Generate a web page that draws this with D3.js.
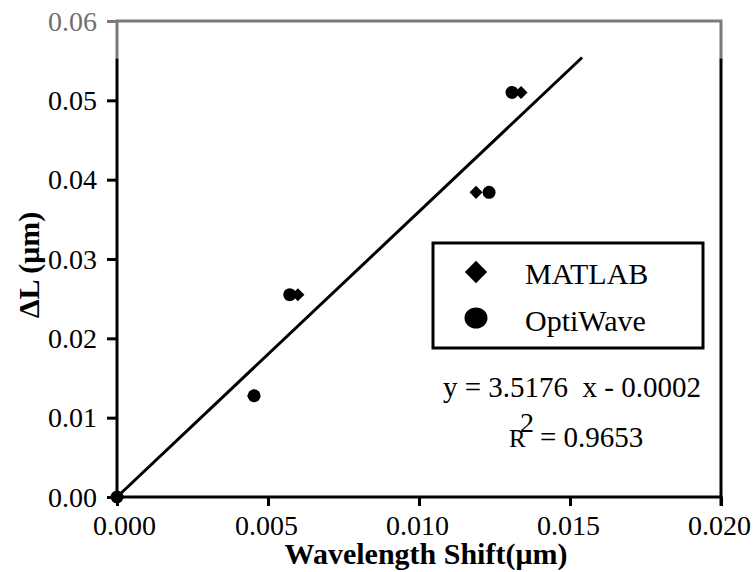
<!DOCTYPE html>
<html>
<head>
<meta charset="utf-8">
<script src="https://cdn.jsdelivr.net/npm/d3@7"></script>
<style>
  body { margin: 0; background: #fff; }
</style>
</head>
<body>
<div id="chart"></div>
<script>
// values
var matlabX = [0.0000, 0.00452, 0.00599, 0.01189, 0.01338];
var matlabY = [0.0000, 0.01276, 0.0255, 0.0384, 0.0510];
var optiX = [0.0000, 0.00454, 0.00572, 0.01232, 0.01308];
var optiY = [0.0000, 0.01276, 0.0255, 0.0384, 0.0510];

// trend line end points as drawn
var trendX = [0.0000, 0.0154];
var trendY = [0.0000, 0.0554];

var xTicks = [0, 0.005, 0.010, 0.015, 0.020];
var yTicks = [0, 0.01, 0.02, 0.03, 0.04, 0.05, 0.06];
var seriesNames = ["MATLAB", "OptiWave"];

var serif = "'Liberation Serif', serif";

// chart size
var width = 754, height = 572;
var margin = {top: 21, right: 33, bottom: 75, left: 117};

var svg = d3.select("#chart").append("svg")
    .attr("width", width)
    .attr("height", height);

var x = d3.scaleLinear().domain([0, 0.02]).range([margin.left, width - margin.right]);
var y = d3.scaleLinear().domain([0, 0.06]).range([height - margin.bottom, margin.top]);

// y axis with ticks
var yAxis = svg.append("g")
    .attr("transform", "translate(" + margin.left + ",0)")
    .call(d3.axisLeft(y).tickValues(yTicks).tickFormat(d3.format(".2f")).tickSize(10).tickPadding(10));

// x axis with ticks
var xAxis = svg.append("g")
    .attr("transform", "translate(0," + (height - margin.bottom) + ")")
    .call(d3.axisBottom(x).tickValues(xTicks).tickFormat(d3.format(".3f")).tickSize(9));

[xAxis, yAxis].forEach(function(g){
  g.attr("font-family", null);
  g.select(".domain").remove();
  g.selectAll("line").attr("stroke", "#000").attr("stroke-width", 3);
  g.selectAll("text")
    .attr("fill", "#000")
    .style("font-size", "28px")
    .style("font-family", serif);
});
xAxis.selectAll("text").attr("y", 38).attr("dy", 0)
  .attr("dx", function(d){ return d == 0 ? 7 : -2; });
yAxis.selectAll("text").attr("dy", "0.33em");
// the top of the scan is faded
yAxis.selectAll("text").filter(function(d){ return d == 0.06; }).attr("fill", "#707070");
yAxis.selectAll("line").filter(function(d){ return d == 0.06; }).attr("stroke", "#7a7a7a");

// frame
var x0 = x(0), x1 = x(0.02), y0 = y(0), y1 = y(0.06);
var yGray = y(0.0553);
svg.append("line").attr("x1", x0).attr("x2", x0).attr("y1", yGray).attr("y2", y0)
  .attr("stroke", "#000").attr("stroke-width", 3);
svg.append("line").attr("x1", x1).attr("x2", x1).attr("y1", yGray).attr("y2", y0 + 9)
  .attr("stroke", "#000").attr("stroke-width", 3);
svg.append("line").attr("x1", x0 - 1.5).attr("x2", x1 + 1.5).attr("y1", y0).attr("y2", y0)
  .attr("stroke", "#000").attr("stroke-width", 3);
svg.append("path")
  .attr("d", "M" + x0 + "," + yGray + "V" + y1 + "H" + x1 + "V" + yGray)
  .attr("fill", "none").attr("stroke", "#7a7a7a").attr("stroke-width", 3);

// trend line
svg.append("line")
  .attr("x1", x(trendX[0])).attr("y1", y(trendY[0]))
  .attr("x2", x(trendX[1])).attr("y2", y(trendY[1]))
  .attr("stroke", "#000").attr("stroke-width", 3);

// markers
var diamond = d3.symbol().type(d3.symbolSquare).size(85);
svg.selectAll(".matlab")
  .data(d3.zip(matlabX, matlabY))
  .enter().append("path")
  .attr("class", "matlab")
  .attr("d", diamond)
  .attr("transform", function(d){ return "translate(" + x(d[0]) + "," + y(d[1]) + ") rotate(45)"; })
  .attr("fill", "#000");

svg.selectAll(".opti")
  .data(d3.zip(optiX, optiY))
  .enter().append("circle")
  .attr("class", "opti")
  .attr("cx", function(d){ return x(d[0]); })
  .attr("cy", function(d){ return y(d[1]); })
  .attr("r", 6.5)
  .attr("fill", "#000");

// legend
var legend = svg.append("g");
legend.append("rect")
  .attr("x", 433).attr("y", 243).attr("width", 270).attr("height", 105)
  .attr("fill", "#fff").attr("stroke", "#000").attr("stroke-width", 3);
legend.append("path")
  .attr("d", d3.symbol().type(d3.symbolSquare).size(250))
  .attr("transform", "translate(476,272) rotate(45)")
  .attr("fill", "#000");
legend.append("ellipse").attr("cx", 476).attr("cy", 318).attr("rx", 11.5).attr("ry", 10.5).attr("fill", "#000");
legend.selectAll(".lt")
  .data(seriesNames)
  .enter().append("text")
  .attr("class", "lt")
  .attr("x", 525)
  .attr("y", function(d, i){ return 284 + i * 47; })
  .style("font-size", "30px")
  .style("font-family", serif)
  .text(function(d){ return d; });

// equation and r squared
svg.append("text")
  .attr("x", 443).attr("y", 397)
  .style("font-size", "29px")
  .style("font-family", serif)
  .style("white-space", "pre")
  .text("y = 3.5176  x - 0.0002");

// R with a full size 2 set high over its right side, as in the picture
svg.append("text").attr("x", 509).attr("y", 447)
  .style("font-size", "25px").style("font-family", serif)
  .text("R");
svg.append("text").attr("x", 520).attr("y", 432)
  .style("font-size", "28px").style("font-family", serif)
  .text("2");
svg.append("text").attr("x", 540).attr("y", 447)
  .style("font-size", "29px").style("font-family", serif)
  .text("= 0.9653");

// axis titles
svg.append("text")
  .attr("x", 426).attr("y", 564)
  .attr("text-anchor", "middle")
  .style("font-size", "30px").style("font-weight", "bold")
  .style("font-family", serif)
  .text("Wavelength Shift(\u03bcm)");

svg.append("text")
  .attr("transform", "translate(39,265) rotate(-90)")
  .attr("text-anchor", "middle")
  .style("font-size", "30px").style("font-weight", "bold")
  .style("font-family", serif)
  .text("\u0394L (\u03bcm)");
</script>
</body>
</html>
